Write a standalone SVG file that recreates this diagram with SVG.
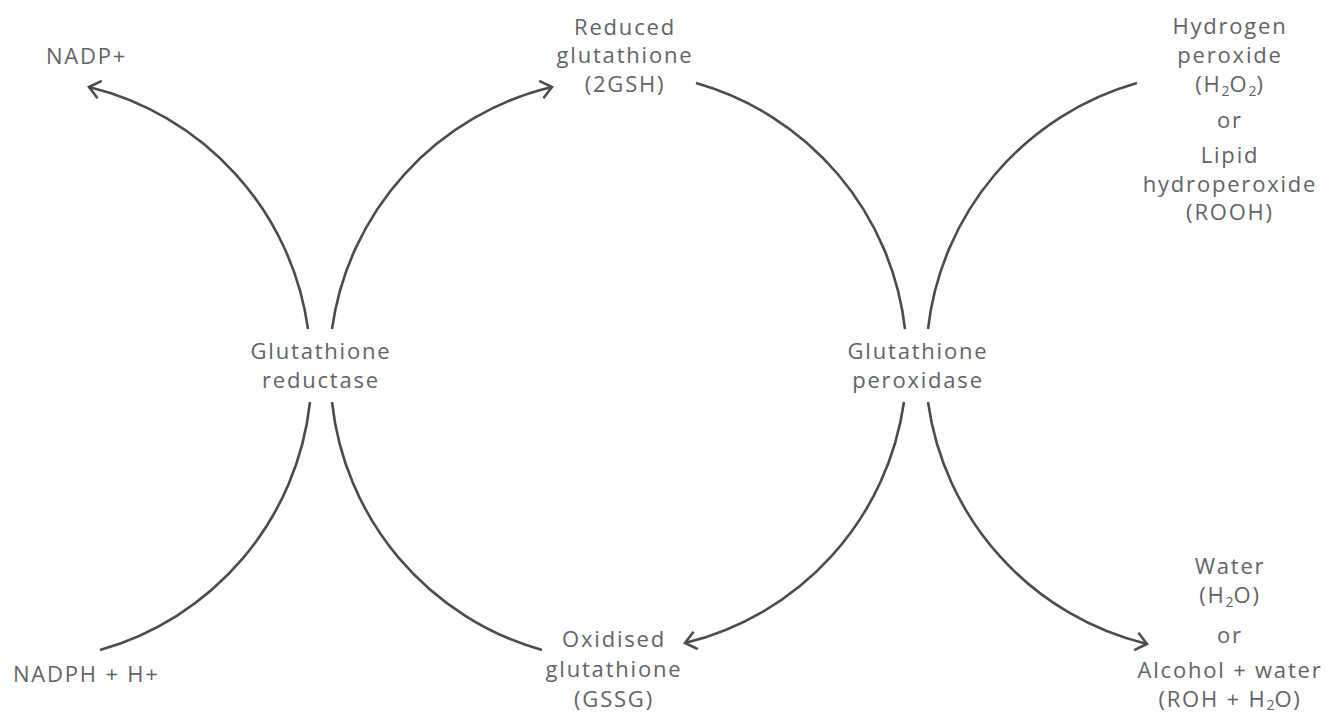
<svg xmlns="http://www.w3.org/2000/svg" width="1327" height="715" viewBox="0 0 1327 715">
<style>
text{font-family:"Open Sans","Liberation Sans",sans-serif;font-size:22px;fill:#626366;letter-spacing:1.8px}
.c{text-anchor:middle}
.sub{font-size:14px;letter-spacing:0}
.edge{fill:none;stroke:#4a4c50;stroke-width:2.6;stroke-linecap:butt}
</style>
<defs>
<marker id="ah" markerUnits="userSpaceOnUse" markerWidth="30" markerHeight="30" viewBox="-15 -15 30 30" refX="0" refY="0" orient="auto">
<path d="M-11,-9 L0,0 L-11,9" fill="none" stroke="#4a4c50" stroke-width="2.6"/>
</marker>
</defs>
<rect width="1327" height="715" fill="#ffffff"/>
<g id="connectors">
<path class="edge" d="M308,329 A290,290 0 0 0 89,87" marker-end="url(#ah)"/>
<path class="edge" d="M332,329 A290,290 0 0 1 552,87" marker-end="url(#ah)"/>
<path class="edge" d="M696,83 A290,290 0 0 1 905,329"/>
<path class="edge" d="M1137,83 A290,290 0 0 0 928,329"/>
<path class="edge" d="M310,402 A290,290 0 0 1 100,650"/>
<path class="edge" d="M332,402 A290,290 0 0 0 542,650"/>
<path class="edge" d="M904,402 A290,290 0 0 1 685,643" marker-end="url(#ah)"/>
<path class="edge" d="M928,402 A290,290 0 0 0 1147,644" marker-end="url(#ah)"/>
</g>
<g id="nadp">
<text x="46" y="64">NADP+</text>
</g>
<g id="gsh">
<text class="c" x="625" y="35">Reduced</text>
<text class="c" x="625" y="63">glutathione</text>
<text class="c" x="625" y="92">(2GSH)</text>
</g>
<g id="h2o2">
<text class="c" x="1230" y="34">Hydrogen</text>
<text class="c" x="1230" y="63">peroxide</text>
<text class="c" x="1230" y="92">(H<tspan class="sub" dy="4">2</tspan><tspan dy="-4">O</tspan><tspan class="sub" dy="4">2</tspan><tspan dy="-4">)</tspan></text>
<text class="c" x="1230" y="128">or</text>
<text class="c" x="1230" y="163">Lipid</text>
<text class="c" x="1230" y="192">hydroperoxide</text>
<text class="c" x="1230" y="220">(ROOH)</text>
</g>
<g id="reductase">
<text class="c" x="321" y="359">Glutathione</text>
<text class="c" x="321" y="388">reductase</text>
</g>
<g id="peroxidase">
<text class="c" x="918" y="359">Glutathione</text>
<text class="c" x="918" y="388">peroxidase</text>
</g>
<g id="nadph">
<text x="13" y="682">NADPH + H+</text>
</g>
<g id="gssg">
<text class="c" x="614" y="647">Oxidised</text>
<text class="c" x="614" y="677">glutathione</text>
<text class="c" x="614" y="707">(GSSG)</text>
</g>
<g id="water">
<text class="c" x="1230" y="574">Water</text>
<text class="c" x="1230" y="603">(H<tspan class="sub" dy="4">2</tspan><tspan dy="-4">O)</tspan></text>
<text class="c" x="1230" y="643">or</text>
<text class="c" x="1230" y="678">Alcohol + water</text>
<text class="c" x="1230" y="707">(ROH + H<tspan class="sub" dy="3">2</tspan><tspan dy="-3">O)</tspan></text>
</g>
</svg>
